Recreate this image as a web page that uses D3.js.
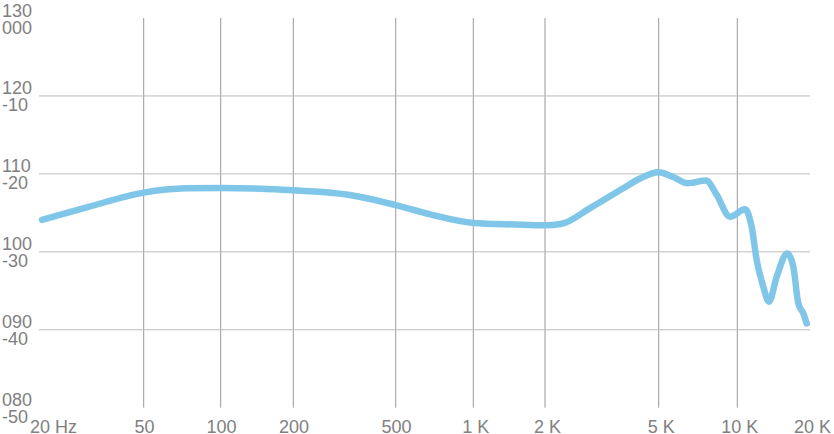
<!DOCTYPE html>
<html>
<head>
<meta charset="utf-8">
<script src="https://cdn.jsdelivr.net/npm/d3@7"></script>
<style>
  html, body { margin: 0; padding: 0; background: #fff; }
  svg { display: block; }
  text { font-family: "Liberation Sans", Arial, sans-serif; fill: #808080; }
</style>
</head>
<body>
<svg id="chart" width="834" height="434"></svg>
<script>
// ---- data ----
const freqs = [20, 29.9, 50, 73.6, 100, 200, 332, 500, 680, 1000, 1500, 2000, 2288, 2874, 3758, 4300, 4990, 5686, 6447, 7589, 8339, 9375, 10762, 11470, 12031, 12813, 13529, 14560, 16106, 17057, 17887, 18760, 19385];
const splValues = [104.1, 105.7, 107.6, 108.15, 108.2, 107.9, 107.3, 106.0, 104.8, 103.7, 103.5, 103.4, 103.6, 105.6, 108.15, 109.4, 110.2, 109.6, 108.8, 109.15, 107.3, 104.5, 105.45, 103.2, 98.95, 95.5, 93.6, 96.8, 99.8, 98.1, 93.4, 92.1, 90.8];

const gridFreqs = [50, 100, 200, 500, 1000, 2000, 5000, 10000];
const xTickFreqs = [20, 50, 100, 200, 500, 1000, 2000, 5000, 10000, 20000];
const xTickLabels = ["20 Hz", "50", "100", "200", "500", "1 K", "2 K", "5 K", "10 K", "20 K"];

const yLevels = [130, 120, 110, 100, 90, 80];
const yLabelsAbs = ["130", "120", "110", "100", "090", "080"];
const yLabelsRel = ["000", "-10", "-20", "-30", "-40", "-50"];
const hGridLevels = [120, 110, 100, 90];

// ---- scales ----
const x = d3.scaleLog()
  .domain([20, 50, 100, 200, 500, 1000, 2000, 5000, 10000, 20000])
  .range([42, 143.7, 220.7, 293.3, 395.7, 473.3, 545, 658.7, 737.3, 810]);
const y = d3.scaleLinear().domain([80, 130]).range([407.7, 18]);

const svg = d3.select("#chart");

// vertical grid
svg.append("g").selectAll("line").data(gridFreqs).join("line")
  .attr("x1", d => x(d)).attr("x2", d => x(d))
  .attr("y1", y(130)).attr("y2", y(80))
  .attr("stroke", "#9a9a9a").attr("stroke-width", 1);

// horizontal grid
svg.append("g").selectAll("line").data(hGridLevels).join("line")
  .attr("x1", x(20) - 3).attr("x2", x(20000))
  .attr("y1", d => y(d)).attr("y2", d => y(d))
  .attr("stroke", "#bdbdbd").attr("stroke-width", 1);

// y labels
const yl = svg.append("g");
yLevels.forEach((lv, i) => {
  yl.append("text").attr("x", 2).attr("y", y(lv) - 1.5)
    .attr("font-size", 18).text(yLabelsAbs[i]);
  yl.append("text").attr("x", 2).attr("y", y(lv) + 15.5)
    .attr("font-size", 18).text(yLabelsRel[i]);
});

// x labels
svg.append("g").selectAll("text").data(xTickFreqs).join("text")
  .attr("x", (d, i) => i === 0 ? 30 : x(d) + (xTickLabels[i].includes("K") ? 2.5 : 0.8))
  .attr("y", 433)
  .attr("text-anchor", (d, i) => i === 0 ? "start" : "middle")
  .attr("font-size", 18)
  .text((d, i) => xTickLabels[i]);

// curve
const pts = freqs.map((f, i) => [f, splValues[i]]);
const line = d3.line()
  .x(d => x(d[0])).y(d => y(d[1]))
  .curve(d3.curveMonotoneX);
svg.append("path").datum(pts)
  .attr("d", line)
  .attr("fill", "none")
  .attr("stroke", "#7fc6e9")
  .attr("stroke-width", 6.5)
  .attr("stroke-linecap", "round")
  .attr("stroke-linejoin", "round");
</script>
</body>
</html>
